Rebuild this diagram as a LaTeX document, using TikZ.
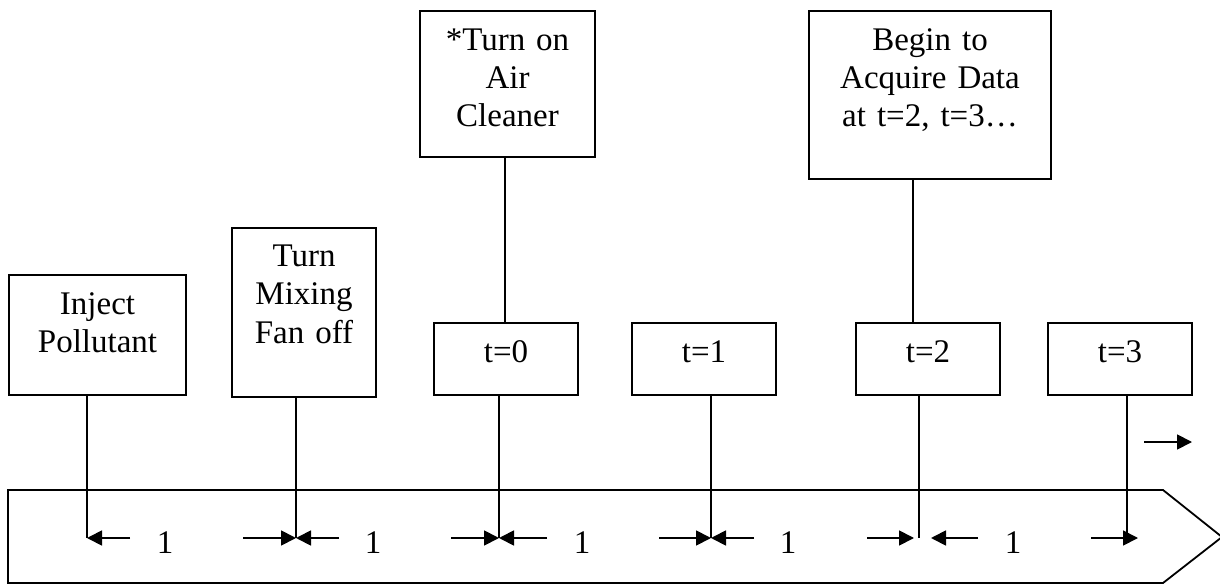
\documentclass[tikz,border=0pt]{standalone}
\usepackage{fontspec}
\setmainfont{Liberation Serif}
\usetikzlibrary{arrows.meta}
\begin{document}
\begin{tikzpicture}[x=1pt,y=-1pt,
  box/.style={draw,line width=2pt,inner sep=0pt,anchor=north west},
  txt/.style={inner sep=0pt,align=center,anchor=base,font=\fontsize{33}{38}\selectfont},
  lnk/.style={line width=1.8pt},
  arr/.style={line width=1.8pt,-{Triangle[length=15pt,width=15pt]}},
  num/.style={inner sep=0pt,anchor=base,font=\fontsize{33}{38}\selectfont}]
\useasboundingbox (0,0) rectangle (1220,585);
% timeline band
\draw[line width=1.8pt] (8,583) -- (8,490) -- (1163,490) -- (1222,537) -- (1163,583) -- cycle;
% boxes
\node[box,minimum width=177pt,minimum height=120pt] (b1) at (8,274) {};
\node[txt,text width=177pt] (b1t) at ([yshift=-40pt]b1.north) {Inject\\Pollutant};
\node[box,minimum width=144pt,minimum height=169pt] (b2) at (231,227) {};
\node[txt,text width=144pt] (b2t) at ([yshift=-40pt]b2.north) {Turn\\Mixing\\Fan off};
\node[box,minimum width=175pt,minimum height=146pt] (b3) at (419,10) {};
\node[txt,text width=175pt] (b3t) at ([yshift=-41pt]b3.north) {*Turn on\\Air\\Cleaner};
\node[box,minimum width=242pt,minimum height=168pt] (bg) at (808,10) {};
\node[txt,text width=242pt] (bgt) at ([yshift=-41pt]bg.north) {Begin to\\Acquire Data\\at t=2, t=3…};
\node[box,minimum width=144pt,minimum height=72pt] (t0) at (433,322) {};
\node[txt,text width=144pt] (t0t) at ([yshift=-40pt]t0.north) {t=0};
\node[box,minimum width=144pt,minimum height=72pt] (t1) at (631,322) {};
\node[txt,text width=144pt] (t1t) at ([yshift=-40pt]t1.north) {t=1};
\node[box,minimum width=144pt,minimum height=72pt] (t2) at (855,322) {};
\node[txt,text width=144pt] (t2t) at ([yshift=-40pt]t2.north) {t=2};
\node[box,minimum width=144pt,minimum height=72pt] (t3) at (1047,322) {};
\node[txt,text width=144pt] (t3t) at ([yshift=-40pt]t3.north) {t=3};
% upper connectors
\coordinate (u1) at (505,0);
\coordinate (u2) at (913,0);
\draw[lnk] (b3.south -| u1) -- (t0.north -| u1);
\draw[lnk] (bg.south -| u2) -- (t2.north -| u2);
% ticks
\coordinate (k1) at (87,538);
\coordinate (k2) at (296,538);
\coordinate (k3) at (499,538);
\coordinate (k4) at (711,538);
\coordinate (k5) at (919,538);
\coordinate (k6) at (1127,538);
\draw[lnk] (b1.south -| k1) -- (k1);
\draw[lnk] (b2.south -| k2) -- (k2);
\draw[lnk] (t0.south -| k3) -- (k3);
\draw[lnk] (t1.south -| k4) -- (k4);
\draw[lnk] (t2.south -| k5) -- (k5);
\draw[lnk] (t3.south -| k6) -- (k6);
% dimension arrows
\coordinate (a1) at (130,538);
\coordinate (a2) at (243,538);
\coordinate (a3) at (339,538);
\coordinate (a4) at (451,538);
\coordinate (a5) at (547,538);
\coordinate (a6) at (659,538);
\coordinate (a7) at (754,538);
\coordinate (a8) at (867,538);
\coordinate (a8e) at (914,538);
\coordinate (a9) at (978,538);
\coordinate (a9e) at (931,538);
\coordinate (a10) at (1091,538);
\coordinate (a10e) at (1138,538);
\draw[arr] (a1) -- (k1);
\draw[arr] (a2) -- (k2);
\draw[arr] (a3) -- (k2);
\draw[arr] (a4) -- (k3);
\draw[arr] (a5) -- (k3);
\draw[arr] (a6) -- (k4);
\draw[arr] (a7) -- (k4);
\draw[arr] (a8) -- (a8e);
\draw[arr] (a9) -- (a9e);
\draw[arr] (a10) -- (a10e);
% labels
\node[num] (n1) at (165,553) {1};
\node[num] (n2) at (373,553) {1};
\node[num] (n3) at (582,553) {1};
\node[num] (n4) at (788,553) {1};
\node[num] (n5) at (1013,553) {1};
% free arrow
\coordinate (fa) at (1144,442);
\coordinate (fb) at (1192,442);
\draw[arr] (fa) -- (fb);
\end{tikzpicture}
\end{document}
